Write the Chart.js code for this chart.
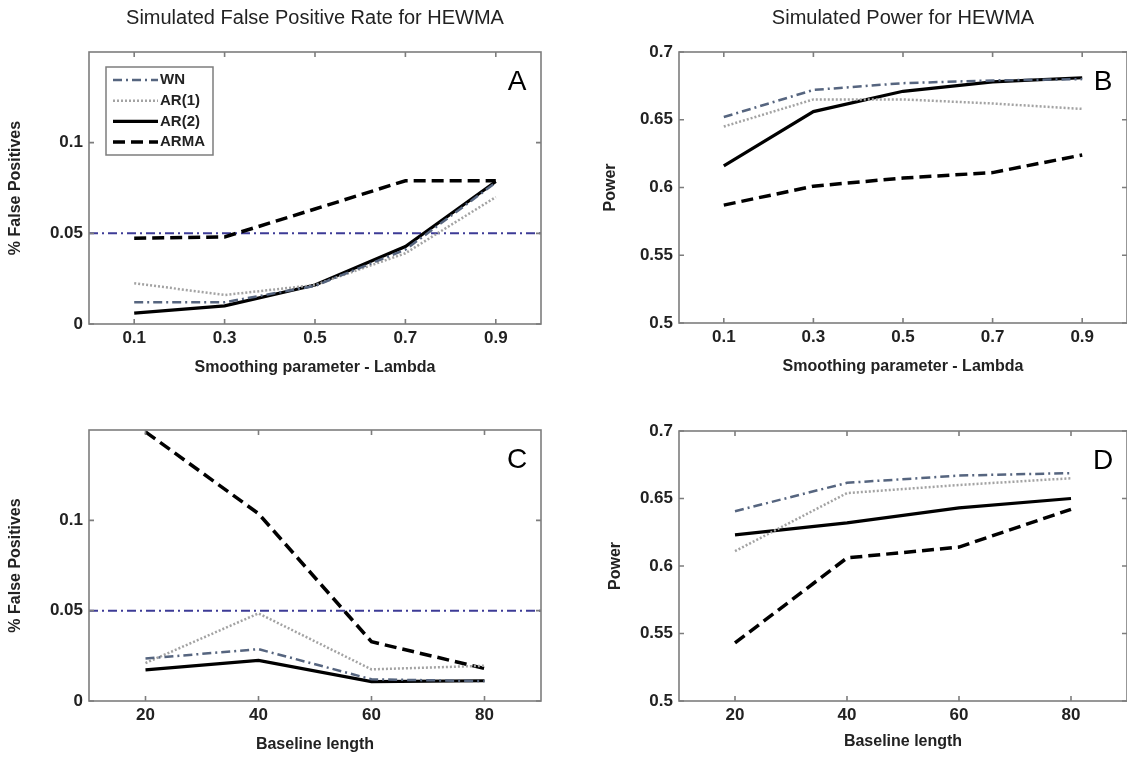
<!DOCTYPE html>
<html>
<head>
<meta charset="utf-8">
<script src="https://cdn.jsdelivr.net/npm/chart.js@4/dist/chart.umd.min.js"></script>
<style>
  html, body { margin: 0; padding: 0; background: #fff; }
  #page { position: relative; width: 1127px; height: 761px; overflow: hidden; background: #fff; }
  .panel { position: absolute; }
</style>
</head>
<body>
<div id="page">
  <div class="panel" style="left:0;top:0;width:563px;height:380px"><canvas id="chartA"></canvas></div>
  <div class="panel" style="left:563px;top:0;width:564px;height:380px"><canvas id="chartB"></canvas></div>
  <div class="panel" style="left:0;top:380px;width:563px;height:381px"><canvas id="chartC"></canvas></div>
  <div class="panel" style="left:563px;top:380px;width:564px;height:381px"><canvas id="chartD"></canvas></div>
</div>
<script>
(function () {
  'use strict';

  // x categories
  var LAMBDA = [0.1, 0.3, 0.5, 0.7, 0.9];
  var BASELINE = [20, 40, 60, 80];

  // tick labels / axis limits
  var FP_TICKS = [0, 0.05, 0.1];
  var POWER_TICKS = [0.5, 0.55, 0.6, 0.65, 0.7];
  var FP_RANGE = [0, 0.15];
  var POWER_RANGE = [0.5, 0.7];
  var LAMBDA_RANGE = [0, 1];
  var BASELINE_RANGE = [10, 90];
  var REF_RATE = 0.05;

  // A: false positives vs lambda
  var FP_LAMBDA_WN = [0.012, 0.012, 0.021, 0.041, 0.078];
  var FP_LAMBDA_AR1 = [0.0225, 0.016, 0.0215, 0.039, 0.070];
  var FP_LAMBDA_AR2 = [0.006, 0.010, 0.0215, 0.0427, 0.0786];
  var FP_LAMBDA_ARMA = [0.0473, 0.048, 0.0634, 0.079, 0.079];

  // B: power vs lambda
  var POW_LAMBDA_WN = [0.652, 0.672, 0.677, 0.679, 0.680];
  var POW_LAMBDA_AR1 = [0.645, 0.665, 0.665, 0.662, 0.658];
  var POW_LAMBDA_AR2 = [0.616, 0.656, 0.671, 0.678, 0.681];
  var POW_LAMBDA_ARMA = [0.587, 0.601, 0.607, 0.611, 0.624];

  // C: false positives vs baseline length
  var FP_BASE_WN = [0.0235, 0.0287, 0.012, 0.011];
  var FP_BASE_AR1 = [0.021, 0.0485, 0.0175, 0.0195];
  var FP_BASE_AR2 = [0.0172, 0.0225, 0.0107, 0.0112];
  var FP_BASE_ARMA = [0.149, 0.1037, 0.0328, 0.018];

  // D: power vs baseline length
  var POW_BASE_WN = [0.6406, 0.6616, 0.667, 0.6688];
  var POW_BASE_AR1 = [0.611, 0.654, 0.660, 0.665];
  var POW_BASE_AR2 = [0.623, 0.632, 0.643, 0.650];
  var POW_BASE_ARMA = [0.543, 0.606, 0.614, 0.642];

  var FONT = "'Liberation Sans', Arial, sans-serif";
  var TEXT = '#222';

  var STYLES = {
    WN: { borderColor: '#56657f', borderWidth: 2.5, borderDash: [9, 4, 2, 4] },
    'AR(1)': { borderColor: '#a3a3a3', borderWidth: 2.5, borderDash: [2, 2] },
    'AR(2)': { borderColor: '#000', borderWidth: 3.2, borderDash: [] },
    ARMA: { borderColor: '#000', borderWidth: 3.5, borderDash: [12, 6] }
  };

  function pts(xs, ys) {
    return xs.map(function (x, i) { return { x: x, y: ys[i] }; });
  }

  function series(label, xs, ys) {
    var s = STYLES[label];
    return {
      label: label, inLegend: true, data: pts(xs, ys),
      borderColor: s.borderColor, borderWidth: s.borderWidth, borderDash: s.borderDash,
      pointRadius: 0, tension: 0, fill: false, borderCapStyle: 'butt'
    };
  }

  function refLine(range) {
    return {
      label: 'ref', inLegend: false, data: pts(range, [REF_RATE, REF_RATE]),
      borderColor: '#3d3b96', borderWidth: 2, borderDash: [9, 4, 2, 4],
      pointRadius: 0, tension: 0, fill: false
    };
  }

  // box round the plot with inward ticks on all four sides
  var frame = {
    id: 'frame',
    afterDatasetsDraw: function (chart) {
      var a = chart.chartArea, ctx = chart.ctx, xs = chart.scales.x, ys = chart.scales.y;
      ctx.save();
      ctx.strokeStyle = '#7d7d7d';
      ctx.lineWidth = 1.6;
      ctx.setLineDash([]);
      ctx.strokeRect(a.left, a.top, a.right - a.left, a.bottom - a.top);
      ctx.beginPath();
      xs.ticks.forEach(function (t) {
        var px = xs.getPixelForValue(t.value);
        ctx.moveTo(px, a.bottom); ctx.lineTo(px, a.bottom - 5);
        ctx.moveTo(px, a.top); ctx.lineTo(px, a.top + 5);
      });
      ys.ticks.forEach(function (t) {
        var py = ys.getPixelForValue(t.value);
        ctx.moveTo(a.left, py); ctx.lineTo(a.left + 5, py);
        ctx.moveTo(a.right, py); ctx.lineTo(a.right - 5, py);
      });
      ctx.stroke();
      ctx.restore();
    }
  };

  var panelTag = {
    id: 'panelTag',
    afterDraw: function (chart, args, opts) {
      if (!opts.text) return;
      var a = chart.chartArea, ctx = chart.ctx;
      ctx.save();
      ctx.fillStyle = '#000';
      ctx.font = '28px ' + FONT;
      ctx.textAlign = 'center';
      ctx.textBaseline = 'middle';
      ctx.fillText(opts.text, a.right - 24, a.top + 30);
      ctx.restore();
    }
  };

  var boxLegend = {
    id: 'boxLegend',
    afterDraw: function (chart, args, opts) {
      if (!opts.display) return;
      var a = chart.chartArea, ctx = chart.ctx;
      var left = a.left + 17, top = a.top + 15, w = 107, h = 88;
      ctx.save();
      ctx.fillStyle = '#fff';
      ctx.fillRect(left, top, w, h);
      ctx.strokeStyle = '#7d7d7d';
      ctx.lineWidth = 1.5;
      ctx.strokeRect(left, top, w, h);
      ctx.font = 'bold 15px ' + FONT;
      ctx.textBaseline = 'middle';
      ctx.fillStyle = TEXT;
      var row = 0;
      chart.data.datasets.forEach(function (ds) {
        if (!ds.inLegend) return;
        var y = top + 13 + row * 20.7;
        ctx.beginPath();
        ctx.strokeStyle = ds.borderColor;
        ctx.lineWidth = ds.borderWidth;
        ctx.setLineDash(ds.borderDash || []);
        ctx.moveTo(left + 7, y);
        ctx.lineTo(left + 52, y);
        ctx.stroke();
        ctx.setLineDash([]);
        ctx.fillText(ds.label, left + 54, y);
        row++;
      });
      ctx.restore();
    }
  };

  function fixedTicks(list) {
    return function (scale) {
      scale.ticks = list.map(function (v) { return { value: v }; });
    };
  }

  function makePanel(id, p) {
    var ctx = document.getElementById(id);
    return new Chart(ctx, {
      type: 'line',
      data: { datasets: p.datasets },
      plugins: [frame, panelTag, boxLegend],
      options: {
        responsive: true,
        maintainAspectRatio: false,
        animation: false,
        layout: { padding: { top: p.padTop, right: p.padRight, left: 0, bottom: 0 } },
        plugins: {
          legend: { display: false },
          tooltip: { enabled: false },
          title: {
            display: Boolean(p.title), text: p.title, fullSize: false, color: TEXT,
            font: { size: 20, weight: 'normal', family: FONT },
            padding: { top: 6, bottom: 22 }
          },
          panelTag: { text: p.tag },
          boxLegend: { display: Boolean(p.legend) }
        },
        scales: {
          x: {
            type: 'linear', min: p.xRange[0], max: p.xRange[1],
            afterBuildTicks: fixedTicks(p.xTicks),
            afterFit: function (s) { s.height = p.xHeight; },
            grid: { display: false, drawTicks: false },
            border: { display: false },
            ticks: { padding: 4, color: TEXT, font: { size: 17, weight: 'bold', family: FONT }, callback: function (v) { return String(v); } },
            title: { display: true, text: p.xLabel, color: TEXT, font: { size: 16, weight: 'bold', family: FONT }, padding: { top: 0, bottom: p.xTitlePad } }
          },
          y: {
            type: 'linear', min: p.yRange[0], max: p.yRange[1],
            afterBuildTicks: fixedTicks(p.yTicks),
            afterFit: function (s) { s.width = p.yWidth; },
            grid: { display: false, drawTicks: false },
            border: { display: false },
            ticks: { padding: 6, color: TEXT, font: { size: 17, weight: 'bold', family: FONT }, callback: function (v) { return String(v); } },
            title: { display: true, text: p.yLabel, color: TEXT, font: { size: 16, weight: 'bold', family: FONT }, padding: { top: p.yTitlePad, bottom: 0 } }
          }
        }
      }
    });
  }

  function init() {
    makePanel('chartA', {
      title: 'Simulated False Positive Rate for HEWMA', tag: 'A', legend: true,
      padTop: 0, padRight: 22, xHeight: 56, yWidth: 89, xTitlePad: 3, yTitlePad: 6,
      xLabel: 'Smoothing parameter - Lambda', yLabel: '% False Positives',
      xRange: LAMBDA_RANGE, yRange: FP_RANGE, xTicks: LAMBDA, yTicks: FP_TICKS,
      datasets: [
        series('WN', LAMBDA, FP_LAMBDA_WN),
        series('AR(1)', LAMBDA, FP_LAMBDA_AR1),
        series('AR(2)', LAMBDA, FP_LAMBDA_AR2),
        series('ARMA', LAMBDA, FP_LAMBDA_ARMA),
        refLine(LAMBDA_RANGE)
      ]
    });
    makePanel('chartB', {
      title: 'Simulated Power for HEWMA', tag: 'B',
      padTop: 0, padRight: 0, xHeight: 57, yWidth: 116, xTitlePad: 4, yTitlePad: 38,
      xLabel: 'Smoothing parameter - Lambda', yLabel: 'Power',
      xRange: LAMBDA_RANGE, yRange: POWER_RANGE, xTicks: LAMBDA, yTicks: POWER_TICKS,
      datasets: [
        series('WN', LAMBDA, POW_LAMBDA_WN),
        series('AR(1)', LAMBDA, POW_LAMBDA_AR1),
        series('AR(2)', LAMBDA, POW_LAMBDA_AR2),
        series('ARMA', LAMBDA, POW_LAMBDA_ARMA)
      ]
    });
    makePanel('chartC', {
      title: '', tag: 'C',
      padTop: 50, padRight: 22, xHeight: 60, yWidth: 89, xTitlePad: 7, yTitlePad: 6,
      xLabel: 'Baseline length', yLabel: '% False Positives',
      xRange: BASELINE_RANGE, yRange: FP_RANGE, xTicks: BASELINE, yTicks: FP_TICKS,
      datasets: [
        series('WN', BASELINE, FP_BASE_WN),
        series('AR(1)', BASELINE, FP_BASE_AR1),
        series('AR(2)', BASELINE, FP_BASE_AR2),
        series('ARMA', BASELINE, FP_BASE_ARMA),
        refLine(BASELINE_RANGE)
      ]
    });
    makePanel('chartD', {
      title: '', tag: 'D',
      padTop: 51, padRight: 0, xHeight: 60, yWidth: 116, xTitlePad: 10, yTitlePad: 43,
      xLabel: 'Baseline length', yLabel: 'Power',
      xRange: BASELINE_RANGE, yRange: POWER_RANGE, xTicks: BASELINE, yTicks: POWER_TICKS,
      datasets: [
        series('WN', BASELINE, POW_BASE_WN),
        series('AR(1)', BASELINE, POW_BASE_AR1),
        series('AR(2)', BASELINE, POW_BASE_AR2),
        series('ARMA', BASELINE, POW_BASE_ARMA)
      ]
    });
  }

  init();
})();
</script>
</body>
</html>
